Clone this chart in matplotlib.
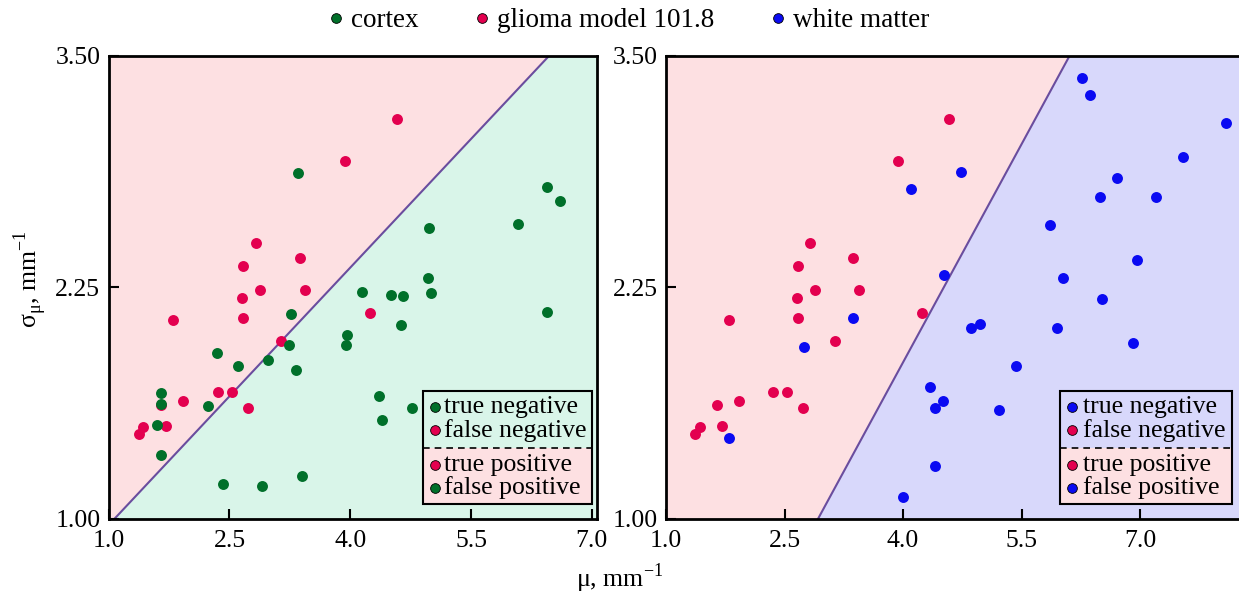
import numpy as np
import matplotlib
matplotlib.use("Agg")
import matplotlib.pyplot as plt
from matplotlib.lines import Line2D
from matplotlib.patches import Rectangle, Polygon

plt.rcParams['font.family'] = 'Liberation Serif'
plt.rcParams['mathtext.fontset'] = 'custom'
plt.rcParams['mathtext.rm'] = 'Liberation Serif'

# glioma model 101.8 (shown in both panels)
glioma_mu = [4.58, 3.94, 2.825, 3.37, 2.67, 2.88, 3.44, 2.66, 1.795, 2.67,
             4.24, 3.14, 2.355, 2.53, 1.65, 1.923, 2.73, 1.713, 1.427, 1.371]
glioma_sigma = [3.159, 2.934, 2.489, 2.408, 2.363, 2.233, 2.233, 2.192, 2.075, 2.084,
                2.111, 1.962, 1.685, 1.685, 1.617, 1.635, 1.601, 1.500, 1.497, 1.461]

# cortex (left panel)
cortex_mu = [3.354, 6.446, 6.603, 6.077, 4.974, 4.962, 4.141, 4.510, 4.659, 4.999,
             3.267, 6.437, 4.630, 3.955, 3.947, 3.234, 2.343, 2.608, 2.977, 3.321,
             1.647, 1.655, 2.239, 4.357, 4.763, 4.394, 1.597, 1.655, 2.417, 2.906, 3.395]
cortex_sigma = [2.868, 2.789, 2.715, 2.594, 2.571, 2.298, 2.226, 2.210, 2.205, 2.221,
                2.106, 2.118, 2.047, 1.994, 1.939, 1.941, 1.896, 1.824, 1.860, 1.806,
                1.680, 1.621, 1.612, 1.664, 1.599, 1.536, 1.508, 1.346, 1.191, 1.179, 1.231]

# white matter (right panel)
wm_mu = [6.267, 6.370, 8.083, 4.734, 4.094, 7.547, 6.711, 6.489, 7.201, 5.859,
         6.958, 4.524, 6.024, 6.514, 3.367, 4.858, 4.972, 5.952, 6.907, 2.748,
         5.431, 4.337, 4.507, 4.399, 5.219, 1.798, 4.404, 4.002]
wm_sigma = [3.380, 3.290, 3.139, 2.875, 2.780, 2.954, 2.841, 2.738, 2.738, 2.589,
            2.400, 2.316, 2.298, 2.185, 2.082, 2.029, 2.050, 2.029, 1.950, 1.930,
            1.827, 1.714, 1.635, 1.597, 1.587, 1.437, 1.287, 1.119]

# decision boundaries (endpoints at sigma = 1.00 and 3.50)
cortex_boundary_mu = [1.07, 6.47]
wm_boundary_mu = [2.923, 6.107]
boundary_sigma = [1.00, 3.50]

x_ticks = [1.0, 2.5, 4.0, 5.5, 7.0]
y_ticks = [1.00, 2.25, 3.50]
legend_labels = ["true negative", "false negative", "true positive", "false positive"]

RED = '#e3004f'
GREEN = '#00702a'
BLUE = '#0a0af2'
PINK = '#fde0e2'
MINT = '#d9f5e9'
LAVENDER = '#d8d8fb'
LINE = '#6a4d9e'
FS = 18.5

fig = plt.figure(figsize=(12.39, 5.99), dpi=100)
ax_l = fig.add_axes([0.0877, 0.1336, 0.3939, 0.7734])
ax_r = fig.add_axes([0.5375, 0.1336, 0.4625, 0.7734])


def setup(ax, xmax, neg_color, boundary_mu, other_mu, other_sigma, other_color, leg_box):
    ax.set_xlim(1.0, xmax)
    ax.set_ylim(1.0, 3.5)
    ax.set_facecolor(neg_color)
    # region above the boundary: glioma side
    poly = [(1.0, 1.0), (boundary_mu[0], boundary_sigma[0]),
            (boundary_mu[1], boundary_sigma[1]), (1.0, 3.5)]
    ax.add_patch(Polygon(poly, closed=True, facecolor=PINK, edgecolor='none', zorder=0))
    ax.plot(boundary_mu, boundary_sigma, color=LINE, lw=1.5, zorder=1)

    ax.scatter(glioma_mu, glioma_sigma, s=62, color=RED, zorder=3, linewidths=0)
    ax.scatter(other_mu, other_sigma, s=62, color=other_color, zorder=4, linewidths=0)

    ax.set_xticks(x_ticks)
    ax.set_yticks(y_ticks)
    ax.set_xticklabels([f"{v:.1f}" for v in x_ticks])
    ax.set_yticklabels([f"{v:.2f}" for v in y_ticks])
    ax.tick_params(direction='in', length=7, width=1.5, labelsize=FS, pad=6)
    ax.tick_params(axis='x', pad=8)
    for sp in ax.spines.values():
        sp.set_linewidth(2)

    # custom legend box
    x0, x1, y0, y1, ymid, mx, tx = leg_box
    ax.add_patch(Rectangle((x0, ymid), x1 - x0, y1 - ymid, transform=ax.transAxes,
                           facecolor=neg_color, edgecolor='none', zorder=5))
    ax.add_patch(Rectangle((x0, y0), x1 - x0, ymid - y0, transform=ax.transAxes,
                           facecolor=PINK, edgecolor='none', zorder=5))
    ax.add_patch(Rectangle((x0, y0), x1 - x0, y1 - y0, transform=ax.transAxes,
                           facecolor='none', edgecolor='black', lw=1.5, zorder=7))
    ax.plot([x0, x1], [ymid, ymid], transform=ax.transAxes, color='black',
            lw=1.2, ls=(0, (4, 3)), zorder=7)
    row_y = [0.2417, 0.192, 0.1166, 0.0669]
    row_c = [other_color, RED, RED, other_color]
    for lab, ry, rc in zip(legend_labels, row_y, row_c):
        ax.plot([mx], [ry], 'o', transform=ax.transAxes, ms=7, color=rc,
                mec='black', mew=0.6, zorder=8, clip_on=False)
        ax.text(tx, ry, lab, transform=ax.transAxes, fontsize=FS, va='center',
                ha='left', zorder=8)


setup(ax_l, 7.06, MINT, cortex_boundary_mu, cortex_mu, cortex_sigma, GREEN,
      (0.6435, 0.9904, 0.0324, 0.2756, 0.1526, 0.6687, 0.687))
setup(ax_r, 8.25, LAVENDER, wm_boundary_mu, wm_mu, wm_sigma, BLUE,
      (0.6876, 0.9873, 0.0324, 0.2756, 0.1526, 0.708, 0.728))
ax_r.spines['right'].set_visible(False)

handles = [Line2D([], [], ls='none', marker='o', ms=7, color=c, mec='black', mew=0.6)
           for c in (GREEN, RED, BLUE)]
fig.legend(handles, ["cortex", "glioma model 101.8", "white matter"],
           loc='center', bbox_to_anchor=(0.508, 0.965), ncol=3, frameon=False,
           fontsize=19.5, handlelength=0.5, handletextpad=0.3, columnspacing=2.1)

fig.text(0.5, 0.035, r"μ, mm$^{\mathregular{-1}}$", fontsize=FS, ha='center', va='center')
fig.text(0.024, 0.534, r"σ$_{\mathregular{μ}}$, mm$^{\mathregular{-1}}$", fontsize=FS,
         ha='center', va='center', rotation=90)

fig.savefig("out.png", dpi=100)
